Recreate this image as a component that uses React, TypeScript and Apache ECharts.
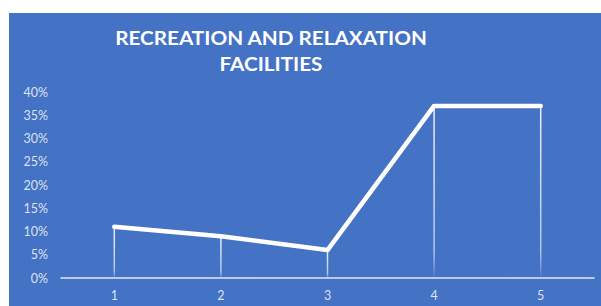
import React, { useEffect, useRef } from "react";
import * as echarts from "echarts";

const categories = ["1", "2", "3", "4", "5"];
const values = [0.11, 0.09, 0.06, 0.37, 0.37];
const titleText = "RECREATION AND RELAXATION\nFACILITIES";

export default function App() {
  const ref = useRef<HTMLDivElement>(null);
  useEffect(() => {
    const chart = echarts.init(ref.current!, null, { renderer: "svg" });
    const labelColor = "rgba(255,255,255,0.82)";
    chart.setOption({
      animation: false,
      backgroundColor: "#ffffff",
      graphic: [
        { type: "rect", z: -10, shape: { x: 9, y: 13, width: 592, height: 293 }, style: { fill: "#4472C4" } },
        {
          type: "text",
          x: 271,
          y: 24,
          scaleX: 1.09,
          style: {
            text: titleText,
            fill: "#ffffff",
            font: "bold 19px Lato",
            align: "center",
            verticalAlign: "top",
            lineHeight: 26,
          },
        },
      ],
      grid: { left: 61, right: 7, top: 92, bottom: 28, containLabel: false },
      xAxis: {
        type: "category",
        data: categories,
        boundaryGap: true,
        axisLine: { show: true, lineStyle: { color: "rgba(255,255,255,0.85)", width: 1.5 } },
        axisTick: { show: false },
        axisLabel: { color: labelColor, fontFamily: "Lato", fontSize: 12.5, margin: 11 },
      },
      yAxis: {
        type: "value",
        min: 0,
        max: 0.4,
        interval: 0.05,
        splitLine: { show: false },
        axisLine: { show: false },
        axisTick: { show: false },
        axisLabel: {
          color: labelColor,
          fontFamily: "Lato",
          fontSize: 12.5,
          margin: 13,
          formatter: (v: number) => Math.round(v * 100) + "%",
        },
      },
      series: [
        {
          type: "bar",
          data: values,
          barWidth: 1.5,
          barGap: "-100%",
          itemStyle: {
            color: new echarts.graphic.LinearGradient(0, 0, 0, 1, [
              { offset: 0, color: "rgba(255,255,255,0.9)" },
              { offset: 0.85, color: "rgba(255,255,255,0.6)" },
              { offset: 1, color: "rgba(255,255,255,0.05)" },
            ]),
          },
          silent: true,
        },
        {
          type: "line",
          data: values,
          symbol: "none",
          lineStyle: { color: "#ffffff", width: 4.5, cap: "round", join: "round" },
          z: 5,
        },
      ],
    });
    return () => chart.dispose();
  }, []);
  return <div ref={ref} style={{ position: "fixed", left: 0, top: 0, width: 601, height: 306 }} />;
}
